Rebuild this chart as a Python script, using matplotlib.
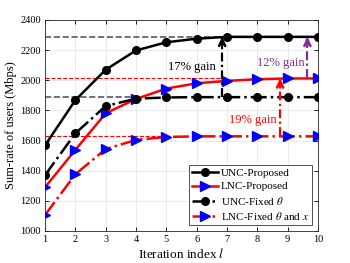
import numpy as np
import matplotlib.pyplot as plt
from matplotlib.lines import Line2D

plt.rcParams['font.family'] = ['Liberation Serif', 'DejaVu Serif']
plt.rcParams['mathtext.fontset'] = 'stix'

iters = [1, 2, 3, 4, 5, 6, 7, 8, 9, 10]
unc_prop = [1568, 1868, 2070, 2198, 2252, 2276, 2288, 2288, 2288, 2288]
lnc_prop = [1290, 1538, 1781, 1876, 1945, 1980, 1996, 2007, 2012, 2012]
unc_fix = [1370, 1648, 1829, 1878, 1886, 1888, 1888, 1888, 1888, 1888]
lnc_fix = [1106, 1376, 1544, 1604, 1624, 1628, 1628, 1628, 1628, 1628]

purple = (0.494, 0.184, 0.556)

fig = plt.figure(figsize=(3.5, 2.63), dpi=100)
ax = fig.add_axes([0.1286, 0.1217, 0.78, 0.8023])

# reference lines
ax.plot([1, 7], [2288, 2288], '--', color='0.35', lw=1.2, zorder=1)
ax.plot([1, 4], [1888, 1888], '--', color='0.35', lw=1.2, zorder=1)
ax.plot([1, 7], [2012, 2012], '--', color='red', lw=0.8, zorder=1)
ax.plot([1, 5], [1628, 1628], '--', color='red', lw=0.8, zorder=1)

ms = 5.5
ax.plot(iters, unc_prop, '-', color='k', lw=1.8, marker='o', ms=ms, zorder=3)
ax.plot(iters, lnc_prop, '-', color='red', lw=1.8, marker='>', ms=ms+1,
        mfc='blue', mec='blue', zorder=3)
ax.plot(iters, unc_fix, '-.', color='k', lw=1.8, marker='o', ms=ms, zorder=3)
ax.plot(iters, lnc_fix, '-.', color='red', lw=1.8, marker='>', ms=ms+1,
        mfc='blue', mec='blue', zorder=3)

# gain arrows: dash-dot shaft plus chevron head
def gain_arrow(x, y0, y1, c):
    ax.plot([x, x], [y0, y1 - 8], '-.', color=c, lw=1.6, zorder=4,
            dashes=(4, 1.5, 1, 1.5))
    ax.annotate('', xy=(x, y1), xytext=(x, y1 - 60), zorder=4,
                arrowprops=dict(arrowstyle='->,head_length=0.45,head_width=0.22',
                                color=c, lw=1.8, shrinkA=0, shrinkB=0))

gain_arrow(6.84, 1888, 2288, 'k')
gain_arrow(9.65, 2012, 2288, purple)
gain_arrow(8.75, 1628, 2012, 'red')
ax.text(6.62, 2085, '17% gain', color='k', fontsize=9, ha='right', va='center')
ax.text(9.55, 2112, '12% gain', color=purple, fontsize=9, ha='right', va='center')
ax.text(8.62, 1738, '19% gain', color='red', fontsize=9, ha='right', va='center')

ax.set_xlim(1, 10)
ax.set_ylim(1000, 2400)
ax.set_xticks(iters)
ax.set_yticks(np.arange(1000, 2401, 200))
ax.tick_params(direction='in', labelsize=7.5, length=3, width=0.6,
               top=True, right=True, pad=3)
ax.grid(True, color='0.9', lw=0.6)
ax.set_axisbelow(True)
for s in ax.spines.values():
    s.set_linewidth(0.6)
    s.set_color('0.15')
ax.set_xlabel('Iteration index $l$', fontsize=9.5, labelpad=2)
ax.set_ylabel('Sum-rate of users (Mbps)', fontsize=9, labelpad=2)

handles = [
    Line2D([], [], ls='-', color='k', lw=1.8, marker='o', ms=ms),
    Line2D([], [], ls='-', color='red', lw=1.8, marker='>', ms=ms+1, mfc='blue', mec='blue'),
    Line2D([], [], ls='-.', color='k', lw=1.8, marker='o', ms=ms),
    Line2D([], [], ls='-.', color='red', lw=1.8, marker='>', ms=ms+1, mfc='blue', mec='blue'),
]
labels = ['UNC-Proposed', 'LNC-Proposed', r'UNC-Fixed $\theta$', r'LNC-Fixed $\theta$ and $x$']
leg = ax.legend(handles, labels, loc='lower right', fontsize=8, fancybox=False,
                edgecolor='0.2', framealpha=1, handlelength=2.3, handletextpad=0.3,
                labelspacing=0.3, borderpad=0.3, borderaxespad=0.5)
leg.get_frame().set_linewidth(0.6)

fig.savefig('out.png', dpi=100)
